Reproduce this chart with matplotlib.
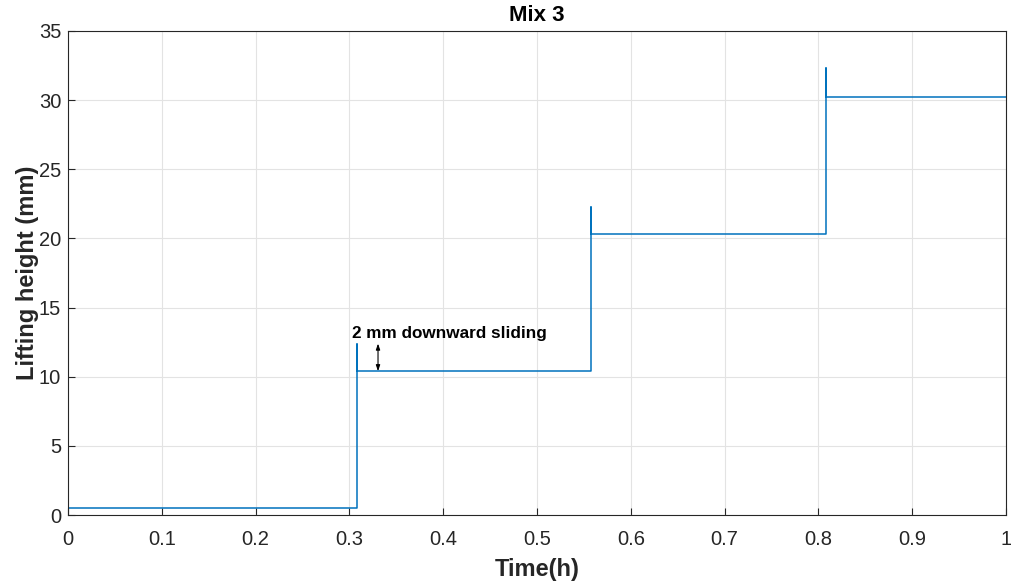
import numpy as np
import matplotlib.pyplot as plt

plt.rcParams['font.family'] = ['Liberation Sans', 'DejaVu Sans']

# lifting test, step loads with short overshoot at each lift
time_h = [0.0, 0.308, 0.308, 0.308, 0.558, 0.558, 0.558, 0.808, 0.808, 0.808, 1.0]
height_mm = [0.5, 0.5, 12.4, 10.4, 10.4, 22.3, 20.3, 20.3, 32.3, 30.2, 30.2]
xticks = [0, 0.1, 0.2, 0.3, 0.4, 0.5, 0.6, 0.7, 0.8, 0.9, 1]
xtick_labels = ['0', '0.1', '0.2', '0.3', '0.4', '0.5', '0.6', '0.7', '0.8', '0.9', '1']
yticks = [0, 5, 10, 15, 20, 25, 30, 35]

fig = plt.figure(figsize=(10.11, 5.84), dpi=100)
ax = fig.add_axes([0.0673, 0.118, 0.9277, 0.829])

ax.plot(time_h, height_mm, color='#0072BD', linewidth=1.1)

ax.set_xlim(0, 1)
ax.set_ylim(0, 35)
ax.set_xticks(xticks)
ax.set_xticklabels(xtick_labels)
ax.set_yticks(yticks)
ax.tick_params(direction='in', labelsize=14.5, colors='#262626', length=5, width=0.8)
ax.tick_params(axis='x', pad=11)
ax.tick_params(axis='y', pad=5)
for s in ax.spines.values():
    s.set_color('#262626')
    s.set_linewidth(0.8)
ax.grid(True, color='#e3e3e3', linewidth=0.8)
ax.set_axisbelow(True)

ax.set_title('Mix 3', fontsize=16, fontweight='bold', pad=7)
ax.set_xlabel('Time(h)', fontsize=17, fontweight='bold', color='#262626', labelpad=6)
ax.set_ylabel('Lifting height (mm)', fontsize=17, fontweight='bold', color='#262626', labelpad=0)

ax.text(0.3025, 13.1, '2 mm downward sliding', fontsize=12.3, fontweight='bold', va='center', ha='left')
ax.annotate('', xy=(0.3305, 10.4), xytext=(0.3305, 12.4),
            arrowprops=dict(arrowstyle='<|-|>,head_length=0.35,head_width=0.12', color='black', lw=0.8,
                            shrinkA=0, shrinkB=0))

fig.savefig('out.png', dpi=100)
